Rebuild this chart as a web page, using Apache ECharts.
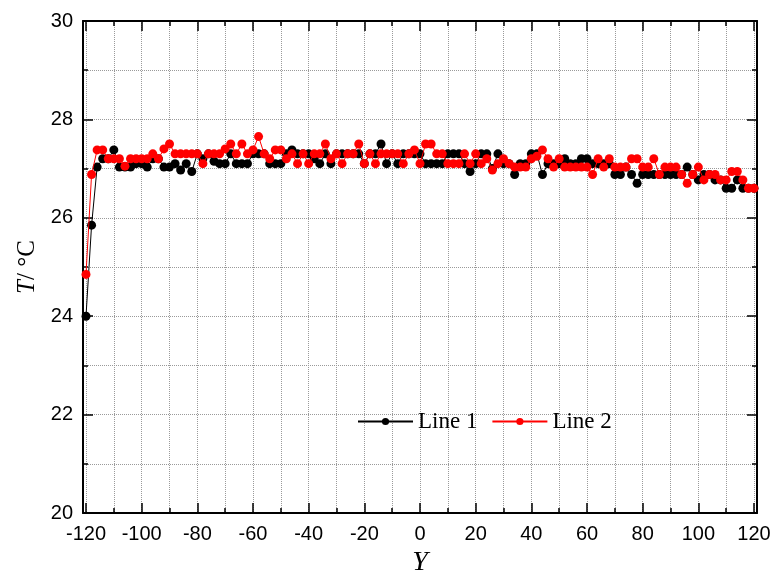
<!DOCTYPE html>
<html><head><meta charset="utf-8">
<script src="https://cdn.jsdelivr.net/npm/echarts@6/dist/echarts.min.js"></script>
<style>html,body{margin:0;padding:0;background:#fff}#c{width:776px;height:579px}</style>
</head><body><div id="c"></div>
<script>
const xs = [
 -120,-118,-116,-114,-112,-110,-108,-106,-104,-102,
 -100,-98,-96,-94,-92,-90,-88,-86,-84,-82,
 -80,-78,-76,-74,-72,-70,-68,-66,-64,-62,
 -60,-58,-56,-54,-52,-50,-48,-46,-44,-42,
 -40,-38,-36,-34,-32,-30,-28,-26,-24,-22,
 -20,-18,-16,-14,-12,-10,-8,-6,-4,-2,
 0,2,4,6,8,10,12,14,16,18,
 20,22,24,26,28,30,32,34,36,38,
 40,42,44,46,48,50,52,54,56,58,
 60,62,64,66,68,70,72,74,76,78,
 80,82,84,86,88,90,92,94,96,98,
 100,102,104,106,108,110,112,114,116,118,
 120];
const line1 = [
 24.0,25.85,27.03,27.2,27.2,27.38,27.03,27.03,27.03,27.1,
 27.1,27.03,27.2,27.2,27.03,27.03,27.1,26.97,27.1,26.94,
 27.3,27.2,27.3,27.15,27.1,27.1,27.3,27.1,27.1,27.1,
 27.3,27.3,27.3,27.1,27.1,27.1,27.3,27.38,27.3,27.3,
 27.3,27.2,27.1,27.3,27.1,27.3,27.3,27.3,27.3,27.3,
 27.1,27.3,27.3,27.5,27.1,27.3,27.1,27.3,27.3,27.3,
 27.3,27.1,27.1,27.1,27.1,27.3,27.3,27.3,27.1,26.94,
 27.1,27.3,27.3,27.0,27.3,27.1,27.1,26.88,27.1,27.1,
 27.3,27.3,26.88,27.1,27.1,27.1,27.2,27.1,27.1,27.2,
 27.2,27.1,27.1,27.1,27.1,26.88,26.88,27.03,26.88,26.7,
 26.88,26.88,26.88,26.88,26.88,26.88,26.88,26.88,27.03,26.88,
 26.77,26.88,26.88,26.77,26.77,26.6,26.6,26.77,26.6,26.6,
 26.6];
const line2 = [
 24.85,26.88,27.38,27.38,27.2,27.2,27.2,27.05,27.2,27.2,
 27.2,27.2,27.3,27.2,27.4,27.5,27.3,27.3,27.3,27.3,
 27.3,27.1,27.3,27.3,27.3,27.4,27.5,27.3,27.5,27.3,
 27.38,27.65,27.3,27.2,27.38,27.38,27.2,27.3,27.1,27.3,
 27.1,27.3,27.3,27.5,27.2,27.3,27.1,27.3,27.3,27.5,
 27.1,27.3,27.1,27.3,27.3,27.3,27.3,27.1,27.3,27.38,
 27.1,27.5,27.5,27.3,27.3,27.1,27.1,27.1,27.3,27.1,
 27.3,27.1,27.2,26.97,27.1,27.2,27.1,27.03,27.03,27.03,
 27.2,27.25,27.38,27.2,27.03,27.2,27.03,27.03,27.03,27.03,
 27.03,26.88,27.2,27.03,27.2,27.03,27.03,27.03,27.2,27.2,
 27.03,27.03,27.2,26.88,27.03,27.03,27.03,26.88,26.7,26.88,
 27.03,26.77,26.88,26.88,26.77,26.77,26.94,26.94,26.77,26.6,
 26.6];
const seriesNames = ['Line 1', 'Line 2'];
const seriesColors = ['#000000', '#ff0000'];

const chart = echarts.init(document.getElementById('c'), null, {renderer: 'canvas'});
const gridLine = {show: true, lineStyle: {color: '#9a9a9a', type: [1, 1], width: 1}};
const sansLabel = {fontFamily: 'Liberation Sans, Arial, sans-serif', fontSize: 20, color: '#000'};
const tickStyle = {color: '#000', width: 1.5};
const noLine = {show: false, onZero: false};
const frameLine = {show: true, onZero: false, lineStyle: {color: '#000', width: 2}};

chart.setOption({
  animation: false,
  backgroundColor: '#fff',
  grid: [
    {left: 86, right: 22, top: 21, bottom: 66, containLabel: false, outerBoundsMode: 'none'},
    {left: 83, right: 19, top: 21, bottom: 66, containLabel: false, outerBoundsMode: 'none'}
  ],
  legend: {
    data: seriesNames,
    left: 357, top: 410, padding: 0,
    itemWidth: 55, itemHeight: 9, itemGap: 14,
    textStyle: {fontFamily: 'Liberation Serif, Times New Roman, serif', fontSize: 23, color: '#000'}
  },
  xAxis: [
    {
      type: 'value', gridIndex: 0, position: 'bottom', min: -120, max: 120, interval: 20,
      axisLine: noLine,
      axisTick: {show: true, inside: true, length: 10, lineStyle: tickStyle},
      minorTick: {show: true, splitNumber: 2, length: 5, lineStyle: tickStyle},
      axisLabel: Object.assign({margin: 11}, sansLabel),
      splitLine: gridLine,
      minorSplitLine: gridLine,
      name: 'Y', nameLocation: 'middle', nameGap: 36,
      nameTextStyle: {fontFamily: 'Liberation Serif, Times New Roman, serif', fontStyle: 'italic', fontSize: 28, color: '#000'}
    },
    {
      type: 'value', gridIndex: 0, position: 'top', min: -120, max: 120, interval: 20,
      axisLine: noLine,
      axisTick: {show: true, inside: true, length: 10, lineStyle: tickStyle},
      minorTick: {show: true, splitNumber: 2, length: 5, lineStyle: tickStyle},
      axisLabel: {show: false}, splitLine: {show: false}
    },
    {type: 'value', gridIndex: 1, position: 'bottom', min: 0, max: 1,
     axisLine: frameLine, axisTick: {show: false}, axisLabel: {show: false}, splitLine: {show: false}},
    {type: 'value', gridIndex: 1, position: 'top', min: 0, max: 1,
     axisLine: frameLine, axisTick: {show: false}, axisLabel: {show: false}, splitLine: {show: false}}
  ],
  yAxis: [
    {
      type: 'value', gridIndex: 0, position: 'left', offset: 3, min: 20, max: 30, interval: 2,
      axisLine: noLine,
      axisTick: {show: true, inside: true, length: 10, lineStyle: tickStyle},
      minorTick: {show: true, splitNumber: 2, length: 5, lineStyle: tickStyle},
      axisLabel: Object.assign({margin: 10}, sansLabel),
      splitLine: gridLine,
      minorSplitLine: gridLine,
      name: '{i|T}{n|/ °C}', nameLocation: 'middle', nameGap: 41, nameRotate: 90,
      nameTextStyle: {
        color: '#000',
        rich: {
          i: {fontFamily: 'Liberation Serif, Times New Roman, serif', fontStyle: 'italic', fontSize: 25, color: '#000'},
          n: {fontFamily: 'Liberation Serif, Times New Roman, serif', fontSize: 25, color: '#000'}
        }
      }
    },
    {
      type: 'value', gridIndex: 0, position: 'right', offset: 3, min: 20, max: 30, interval: 2,
      axisLine: noLine,
      axisTick: {show: true, inside: true, length: 10, lineStyle: tickStyle},
      minorTick: {show: true, splitNumber: 2, length: 5, lineStyle: tickStyle},
      axisLabel: {show: false}, splitLine: {show: false}
    },
    {type: 'value', gridIndex: 1, position: 'left', min: 0, max: 1,
     axisLine: frameLine, axisTick: {show: false}, axisLabel: {show: false}, splitLine: {show: false}},
    {type: 'value', gridIndex: 1, position: 'right', min: 0, max: 1,
     axisLine: frameLine, axisTick: {show: false}, axisLabel: {show: false}, splitLine: {show: false}}
  ],
  series: [line1, line2].map((vals, k) => ({
    name: seriesNames[k],
    type: 'line',
    xAxisIndex: 0, yAxisIndex: 0,
    data: xs.map((x, i) => [x, vals[i]]),
    symbol: 'circle', symbolSize: 9,
    itemStyle: {color: seriesColors[k]},
    lineStyle: {color: seriesColors[k], width: 1},
    z: 3 + k
  }))
});
</script></body></html>
